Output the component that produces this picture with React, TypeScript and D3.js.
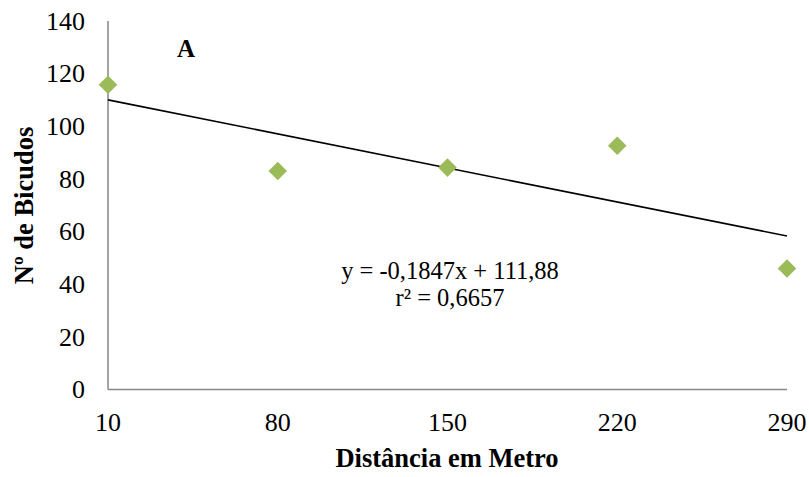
import React from "react";
import * as d3 from "d3";

const distances = [10, 80, 150, 220, 290];
const bicudos = [115.8, 83, 84.3, 92.6, 46];
const yTicks = [0, 20, 40, 60, 80, 100, 120, 140];
const slope = -0.1847;
const intercept = 111.88;
const eqLabel = "y = -0,1847x + 111,88";
const r2Label = "r² = 0,6657";

export default function App() {
  const W = 809, H = 477;
  const x = d3.scaleLinear().domain([10, 290]).range([108, 787]);
  const y = d3.scaleLinear().domain([0, 140]).range([389.5, 21]);
  const font = "'Liberation Serif', 'Times New Roman', serif";
  const trend = d3.line<number>().x(d => x(d)).y(d => y(slope * d + intercept));
  const diamond = d3.symbol().type(d3.symbolDiamond2).size(220)();
  return (
    <svg width={W} height={H} style={{ position: "absolute", left: 0, top: 0 }} fontFamily={font}>
      <rect width={W} height={H} fill="#fff" />
      <line x1={x(10)} x2={x(10)} y1={y(0)} y2={y(140)} stroke="#868686" strokeWidth={1.5} />
      <line x1={x(10)} x2={x(290)} y1={y(0)} y2={y(0)} stroke="#868686" strokeWidth={1.5} />
      {yTicks.map(t => (
        <text key={t} x={85} y={y(t)} dy="0.34em" textAnchor="end" fontSize={26}>{t}</text>
      ))}
      {distances.map(d => (
        <text key={d} x={x(d)} y={431} textAnchor="middle" fontSize={26}>{d}</text>
      ))}
      <path d={trend([10, 290]) || ""} stroke="#000" strokeWidth={1.6} fill="none" />
      {distances.map((d, i) => (
        <path key={d} d={diamond || ""} transform={`translate(${x(d)},${y(bicudos[i])})`} fill="#9BBB59" />
      ))}
      <text x={186} y={57} textAnchor="middle" fontSize={25} fontWeight="bold">A</text>
      <text x={450} y={279} textAnchor="middle" fontSize={24.5}>{eqLabel}</text>
      <text x={450} y={306} textAnchor="middle" fontSize={24.5}>{r2Label}</text>
      <text x={447} y={467} textAnchor="middle" fontSize={26.5} fontWeight="bold">Distância em Metro</text>
      <text transform={`translate(33,205.5) rotate(-90)`} textAnchor="middle" fontSize={26.5} fontWeight="bold">Nº de Bicudos</text>
    </svg>
  );
}
